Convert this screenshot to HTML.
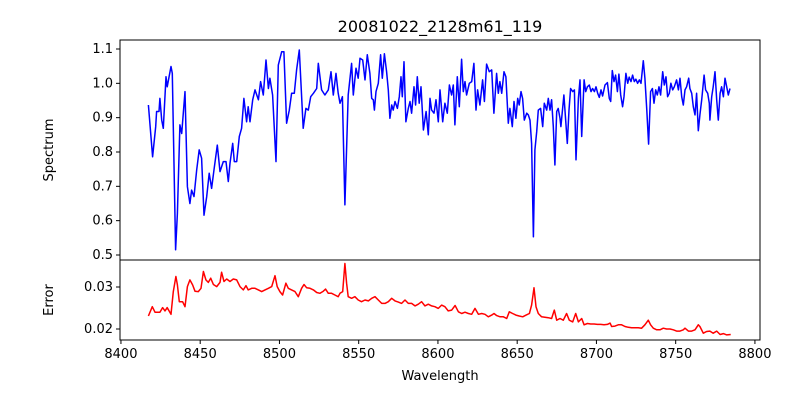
<!DOCTYPE html>
<html><head><meta charset="utf-8"><style>
body{margin:0;background:#fff;}
svg{display:block;font-family:"DejaVu Sans","Liberation Sans",sans-serif;}
</style></head><body>
<svg id="chart" width="800" height="400" viewBox="0 0 800 400" xmlns="http://www.w3.org/2000/svg">
<rect width="800" height="400" fill="#fff"/>
<text x="440" y="32" font-size="16" text-anchor="middle">20081022_2128m61_119</text>
<g id="topPanel"></g>
<g id="botPanel"></g>
<text transform="translate(53,150) rotate(-90)" font-size="13" text-anchor="middle">Spectrum</text>
<text transform="translate(53,300) rotate(-90)" font-size="13" text-anchor="middle">Error</text>
<text x="440" y="380" font-size="13" text-anchor="middle">Wavelength</text>
</svg>
<script>
const specWave=[8417.3,8420.0,8421.9,8422.5,8424.0,8424.6,8425.7,8426.7,8428.4,8429.2,8431.6,8432.4,8434.5,8435.6,8437.2,8438.3,8440.4,8441.9,8443.5,8444.6,8446.1,8447.8,8449.4,8450.9,8452.4,8454.1,8455.7,8457.2,8458.7,8460.8,8462.5,8464.6,8466.3,8467.7,8468.8,8470.5,8471.5,8473.0,8474.7,8476.1,8477.6,8479.3,8480.3,8481.4,8483.1,8484.6,8486.7,8488.1,8489.8,8491.5,8493.0,8494.0,8495.7,8497.8,8499.3,8501.4,8502.8,8504.5,8506.2,8507.7,8509.4,8510.8,8512.5,8515.0,8516.7,8518.2,8519.7,8521.4,8523.5,8524.5,8526.6,8528.7,8530.8,8532.5,8534.0,8535.7,8537.1,8538.2,8539.7,8541.3,8543.4,8545.5,8546.6,8548.3,8549.7,8550.8,8552.5,8554.0,8555.4,8557.1,8558.2,8559.2,8559.9,8560.9,8562.4,8563.8,8564.9,8566.2,8567.6,8568.7,8569.7,8570.8,8571.8,8572.9,8574.4,8575.6,8576.7,8577.5,8578.6,8579.8,8581.3,8582.4,8583.4,8584.9,8585.9,8587.0,8588.2,8589.3,8590.8,8592.5,8593.9,8595.0,8596.0,8597.5,8598.8,8600.2,8601.3,8603.0,8604.4,8605.9,8607.2,8608.6,8609.7,8610.7,8612.2,8613.5,8614.9,8616.0,8617.1,8618.1,8619.8,8621.3,8622.7,8624.0,8625.0,8626.5,8628.2,8629.3,8630.7,8632.4,8633.9,8635.3,8637.0,8638.1,8639.1,8640.2,8641.7,8642.9,8644.4,8645.4,8646.9,8648.0,8649.2,8650.3,8651.3,8652.4,8653.4,8654.5,8656.0,8657.0,8658.1,8659.1,8660.2,8661.2,8662.3,8663.3,8664.8,8666.1,8667.1,8668.6,8669.6,8670.7,8671.7,8672.8,8673.8,8674.9,8675.9,8677.0,8677.6,8679.5,8681.6,8682.7,8683.7,8685.0,8686.1,8687.1,8688.6,8689.6,8690.7,8692.2,8693.2,8694.3,8695.5,8696.6,8697.6,8698.7,8699.7,8700.8,8701.8,8702.9,8703.9,8705.4,8706.9,8708.1,8709.0,8710.0,8711.1,8712.1,8713.2,8714.2,8715.3,8716.5,8717.4,8718.6,8719.7,8720.7,8721.8,8722.8,8723.9,8724.9,8726.0,8727.1,8728.1,8729.6,8730.6,8731.7,8732.9,8734.2,8735.3,8736.3,8737.4,8738.4,8739.5,8740.5,8741.8,8742.8,8743.9,8744.9,8746.0,8747.0,8748.1,8749.1,8750.6,8751.7,8752.7,8753.8,8754.8,8755.9,8756.9,8758.2,8759.0,8760.1,8761.1,8762.2,8763.2,8764.3,8765.3,8766.4,8767.9,8768.9,8770.2,8771.2,8771.6,8772.7,8773.7,8774.8,8775.9,8776.9,8778.0,8779.0,8780.1,8781.1,8782.2,8783.2,8784.3];
const specFlux=[0.937,0.786,0.874,0.918,0.918,0.956,0.893,0.869,1.019,0.990,1.049,1.029,0.515,0.621,0.879,0.854,0.976,0.699,0.650,0.689,0.670,0.748,0.806,0.782,0.616,0.670,0.738,0.694,0.748,0.820,0.743,0.772,0.772,0.714,0.767,0.825,0.772,0.772,0.845,0.869,0.956,0.888,0.932,0.888,0.952,0.981,0.952,1.005,0.966,1.068,0.985,1.015,0.966,0.772,1.053,1.092,1.092,0.884,0.922,0.971,0.971,1.039,1.097,0.869,0.927,0.922,0.961,0.971,0.985,1.058,0.981,0.966,0.981,1.034,0.966,1.029,0.971,0.942,0.961,0.646,0.966,1.058,0.966,1.044,1.015,1.073,1.068,1.010,1.083,1.029,0.956,0.952,0.922,0.976,1.000,1.083,1.015,1.086,1.034,0.981,0.898,0.937,0.922,0.947,0.927,0.961,1.019,0.961,1.063,0.888,0.927,0.947,0.913,0.990,0.937,1.019,0.942,0.990,0.864,0.918,0.850,0.956,0.922,0.913,0.952,0.888,0.981,0.888,0.942,0.913,0.995,0.966,0.995,0.879,1.019,0.932,1.070,0.976,1.005,0.966,1.000,1.005,1.058,0.922,0.981,0.937,1.010,0.947,1.056,1.034,1.039,0.913,1.029,0.971,1.005,0.971,1.034,1.019,0.884,0.927,0.874,0.947,0.898,0.956,0.937,0.976,0.956,0.893,0.913,0.908,0.893,0.825,0.553,0.806,0.859,0.922,0.927,0.874,0.942,0.922,0.956,0.922,0.952,0.874,0.762,0.918,0.927,0.898,0.874,0.966,0.825,0.922,0.985,0.976,0.981,0.777,0.956,1.010,0.845,1.010,0.976,0.990,0.995,0.976,0.985,0.976,0.990,0.971,0.959,0.981,0.963,0.995,1.002,0.956,0.947,1.037,1.005,1.024,0.976,1.027,0.966,0.932,0.961,1.029,1.000,1.018,1.005,1.024,1.005,1.012,1.000,1.010,1.000,1.066,1.015,0.927,0.823,0.976,0.985,0.942,0.981,0.966,0.990,0.966,1.034,0.995,1.019,0.961,0.971,1.000,0.981,0.990,1.010,0.981,1.015,0.961,0.937,0.981,0.990,1.015,0.985,0.971,0.932,0.908,0.971,0.862,0.908,0.952,1.024,0.981,0.971,0.942,0.893,0.961,0.990,1.034,0.952,0.893,0.971,0.990,0.961,1.015,0.990,0.966,0.985];
const errWave=[8417.3,8419.8,8421.5,8424.6,8426.3,8427.8,8429.2,8431.6,8433.0,8434.7,8435.6,8436.8,8438.9,8440.4,8441.9,8443.5,8445.2,8446.7,8448.8,8450.5,8452.0,8453.6,8455.1,8456.6,8458.3,8460.4,8462.5,8463.5,8465.0,8466.7,8468.8,8470.9,8473.0,8475.1,8477.2,8478.9,8480.3,8482.5,8484.6,8486.7,8488.8,8490.9,8493.0,8495.1,8497.2,8498.6,8500.3,8502.0,8504.1,8505.6,8507.7,8509.8,8511.9,8514.0,8515.5,8517.2,8519.3,8521.4,8523.5,8525.6,8527.7,8529.1,8530.8,8532.9,8535.0,8537.1,8538.2,8539.9,8541.3,8542.4,8543.4,8545.5,8547.6,8549.7,8551.8,8554.0,8556.1,8558.2,8560.3,8562.4,8564.5,8566.6,8568.7,8570.8,8572.9,8575.0,8577.1,8579.2,8581.3,8583.4,8585.5,8587.6,8589.7,8591.8,8593.9,8596.0,8598.1,8600.2,8602.3,8604.4,8606.5,8608.7,8610.8,8612.9,8615.0,8617.1,8619.2,8621.3,8623.4,8625.5,8627.6,8629.7,8631.8,8633.9,8635.4,8637.1,8639.2,8641.3,8643.4,8645.0,8647.1,8649.2,8651.3,8653.5,8655.6,8657.7,8659.1,8660.6,8661.9,8663.3,8665.4,8667.5,8669.6,8671.7,8673.4,8674.9,8677.0,8679.1,8681.2,8682.9,8685.0,8686.9,8688.6,8690.7,8692.2,8694.3,8696.4,8698.5,8700.6,8702.7,8704.8,8706.9,8708.6,8709.6,8711.7,8713.8,8715.9,8718.0,8720.1,8722.2,8724.3,8726.4,8728.5,8730.6,8732.7,8734.2,8735.9,8738.0,8740.1,8742.2,8744.3,8746.4,8748.5,8750.6,8752.7,8754.8,8755.9,8758.0,8760.1,8762.2,8764.3,8765.3,8767.4,8769.5,8771.6,8773.7,8775.9,8778.0,8780.1,8782.2,8784.7];
const errVal=[0.0231,0.0253,0.0240,0.0240,0.0251,0.0243,0.0251,0.0235,0.0289,0.0325,0.0305,0.0265,0.0265,0.0253,0.0301,0.0317,0.0305,0.0290,0.0289,0.0297,0.0337,0.0317,0.0311,0.0321,0.0306,0.0301,0.0311,0.0335,0.0313,0.0319,0.0313,0.0319,0.0317,0.0301,0.0293,0.0303,0.0293,0.0297,0.0297,0.0293,0.0289,0.0293,0.0297,0.0301,0.0327,0.0301,0.0289,0.0281,0.0309,0.0297,0.0293,0.0289,0.0277,0.0297,0.0306,0.0298,0.0297,0.0293,0.0287,0.0285,0.0290,0.0295,0.0285,0.0285,0.0281,0.0277,0.0285,0.0289,0.0356,0.0309,0.0277,0.0273,0.0277,0.0269,0.0265,0.0269,0.0267,0.0273,0.0277,0.0269,0.0261,0.0261,0.0265,0.0273,0.0267,0.0264,0.0261,0.0269,0.0261,0.0261,0.0255,0.0259,0.0265,0.0255,0.0259,0.0255,0.0253,0.0249,0.0257,0.0253,0.0243,0.0245,0.0256,0.0241,0.0237,0.0240,0.0237,0.0235,0.0249,0.0235,0.0237,0.0235,0.0229,0.0233,0.0237,0.0232,0.0229,0.0229,0.0225,0.0241,0.0237,0.0233,0.0231,0.0229,0.0233,0.0237,0.0257,0.0298,0.0253,0.0237,0.0229,0.0228,0.0227,0.0225,0.0245,0.0221,0.0225,0.0221,0.0237,0.0221,0.0217,0.0237,0.0217,0.0225,0.0210,0.0213,0.0212,0.0212,0.0211,0.0211,0.0210,0.0211,0.0214,0.0206,0.0207,0.0210,0.0210,0.0206,0.0204,0.0203,0.0203,0.0203,0.0202,0.0210,0.0221,0.0210,0.0202,0.0198,0.0198,0.0202,0.0200,0.0200,0.0198,0.0195,0.0195,0.0198,0.0202,0.0195,0.0195,0.0198,0.0210,0.0206,0.0190,0.0194,0.0195,0.0190,0.0195,0.0187,0.0189,0.0186,0.0187];
const xTicks=[8400,8450,8500,8550,8600,8650,8700,8750,8800];
const specTicks=[0.5,0.6,0.7,0.8,0.9,1.0,1.1];
const errTicks=[0.02,0.03];

const NS='http://www.w3.org/2000/svg';
const L=120,R=760,TT=40,TB=260,BT=260,BB=340;
const xMin=8399.4,xMax=8803.2;
const xs=w=>L+(w-xMin)/(xMax-xMin)*(R-L);
const yS=v=>TB-(v-0.4854)/(1.1262-0.4854)*(TB-TT);
const yE=v=>BB-(v-0.01738)/(0.03643-0.01738)*(BB-BT);
function mk(tag,attrs,parent){const e=document.createElementNS(NS,tag);for(const k in attrs)e.setAttribute(k,attrs[k]);parent.appendChild(e);return e;}
const topG=document.getElementById('topPanel'),botG=document.getElementById('botPanel');

let d=specWave.map((w,i)=>(i?'L':'M')+xs(w).toFixed(1)+','+yS(specFlux[i]).toFixed(1)).join('');
const p1=mk('path',{d:d,fill:'none',stroke:'#0000ff','stroke-width':1.5,'stroke-linejoin':'round'},topG);


d=errWave.map((w,i)=>(i?'L':'M')+xs(w).toFixed(1)+','+yE(errVal[i]).toFixed(1)).join('');
const p2=mk('path',{d:d,fill:'none',stroke:'#ff0000','stroke-width':1.5,'stroke-linejoin':'round'},botG);



const f1=mk('rect',{x:L,y:TT,width:R-L,height:TB-TT,fill:'none',stroke:'#000','stroke-width':1},topG);


const f2=mk('rect',{x:L,y:BT,width:R-L,height:BB-BT,fill:'none',stroke:'#000','stroke-width':1},botG);



specTicks.forEach(t=>{const y=yS(t);
 mk('line',{x1:L-4,x2:L,y1:y,y2:y,stroke:'#000'},topG);
 const tx=mk('text',{x:L-7,y:y+4,'font-size':13,'text-anchor':'end'},topG);tx.textContent=t.toFixed(1);
 
 });
errTicks.forEach(t=>{const y=yE(t);
 mk('line',{x1:L-4,x2:L,y1:y,y2:y,stroke:'#000'},botG);
 const tx=mk('text',{x:L-7,y:y+4,'font-size':13,'text-anchor':'end'},botG);tx.textContent=t.toFixed(2);
 
 });
xTicks.forEach(t=>{const xx=xs(t);
 mk('line',{x1:xx,x2:xx,y1:BB,y2:BB+4,stroke:'#000'},botG);
 const tx=mk('text',{x:xx,y:BB+18,'font-size':13,'text-anchor':'middle'},botG);tx.textContent=t;
 
 });
</script>
</body></html>
